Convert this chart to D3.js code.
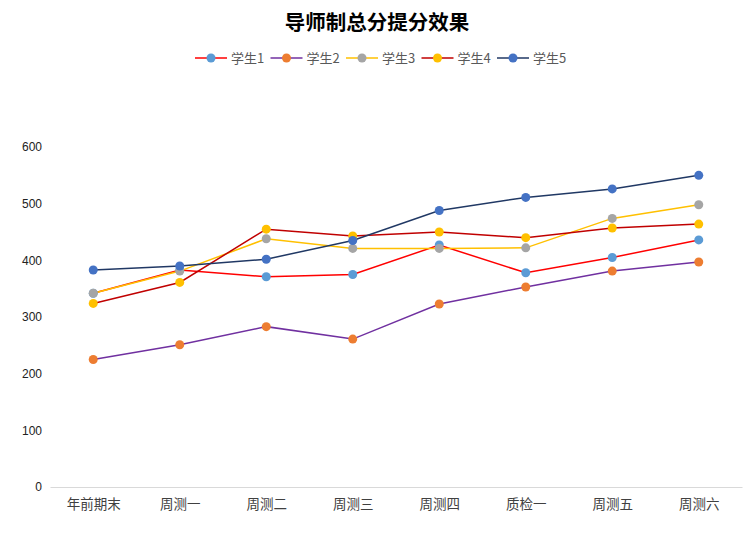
<!DOCTYPE html>
<html>
<head>
<meta charset="utf-8">
<script src="https://cdn.jsdelivr.net/npm/d3@7"></script>
<style>
  body { margin: 0; background: #fff; }
  text { font-family: "Noto Sans CJK SC", "Noto Sans", sans-serif; }
</style>
</head>
<body>
<svg id="chart"></svg>
<script>
// chart data
const categories = ['年前期末', '周测一', '周测二', '周测三', '周测四', '质检一', '周测五', '周测六'];
const seriesNames = ['学生1', '学生2', '学生3', '学生4', '学生5'];
const student1 = [342, 383, 371, 375, 427, 378, 405, 436];
const student2 = [225, 251, 283, 261, 323, 353, 381, 397];
const student3 = [342, 381, 438, 421, 421, 422, 474, 498];
const student4 = [324, 361, 455, 443, 450, 440, 457, 464];
const student5 = [383, 390, 402, 435, 488, 511, 526, 550];
const yTicks = [0, 100, 200, 300, 400, 500, 600];

const lineColors = ['#FF0000', '#7030A0', '#FFC000', '#C00000', '#203864'];
const markerColors = ['#5B9BD5', '#ED7D31', '#A5A5A5', '#FFC000', '#4472C4'];

const series = [student1, student2, student3, student4, student5].map((vals, i) => ({
  name: seriesNames[i],
  values: vals,
  line: lineColors[i],
  marker: markerColors[i]
}));

const width = 754, height = 536;
const margin = {top: 147, right: 12, bottom: 49, left: 50};

const svg = d3.select('#chart')
    .attr('width', width)
    .attr('height', height);

const innerW = width - margin.left - margin.right;
const innerH = height - margin.top - margin.bottom;

const chart = svg.append('g')
    .attr('transform', `translate(${margin.left},${margin.top})`);

const xScale = d3.scalePoint()
    .domain(categories)
    .range([0, innerW])
    .padding(0.5);

const yScale = d3.scaleLinear()
    .domain([0, 600])
    .range([innerH, 0]);

// title
svg.append('text')
    .attr('x', width / 2)
    .attr('y', 30)
    .attr('text-anchor', 'middle')
    .style('font-size', '20.5px')
    .style('font-weight', 'bold')
    .style('fill', '#000')
    .text('导师制总分提分效果');

// legend
const legend = svg.append('g').attr('transform', 'translate(195,58)');
series.forEach((s, i) => {
  const g = legend.append('g').attr('transform', `translate(${i * 75.5},0)`);
  g.append('line')
      .attr('x1', 0).attr('x2', 32)
      .attr('y1', 0).attr('y2', 0)
      .attr('stroke', s.line)
      .attr('stroke-width', 1.5);
  g.append('circle')
      .attr('cx', 16).attr('cy', 0).attr('r', 4.5)
      .attr('fill', s.marker);
  g.append('text')
      .attr('x', 36)
      .attr('y', 0)
      .attr('dy', '0.35em')
      .style('font-size', '13px')
      .style('fill', '#595959')
      .text(s.name);
});

// y axis (labels only)
const yAxis = d3.axisLeft(yScale)
    .tickValues(yTicks)
    .tickSize(0)
    .tickPadding(8);

chart.append('g')
    .call(yAxis)
    .call(g => g.select('.domain').remove())
    .call(g => g.selectAll('text')
        .style('font-size', '12px')
        .style('fill', '#222')
        .style('font-family', '"Liberation Sans", Arial, sans-serif'));

// x axis
const xAxis = d3.axisBottom(xScale)
    .tickSize(0)
    .tickPadding(12);

chart.append('g')
    .attr('transform', `translate(0,${innerH})`)
    .call(xAxis)
    .call(g => g.select('.domain')
        .attr('stroke', '#D9D9D9')
        .attr('stroke-width', 1.2))
    .call(g => g.selectAll('text')
        .style('font-size', '13.5px')
        .style('fill', '#404040'));

// lines
const line = d3.line()
    .x((d, i) => xScale(categories[i]))
    .y(d => yScale(d));

chart.selectAll('.series-line')
  .data(series)
  .join('path')
    .attr('class', 'series-line')
    .attr('d', d => line(d.values))
    .attr('fill', 'none')
    .attr('stroke', d => d.line)
    .attr('stroke-width', 1.5);

// markers
series.forEach(s => {
  chart.selectAll(null)
    .data(s.values)
    .join('circle')
      .attr('cx', (d, i) => xScale(categories[i]))
      .attr('cy', d => yScale(d))
      .attr('r', 4.5)
      .attr('fill', s.marker);
});
</script>
</body>
</html>
